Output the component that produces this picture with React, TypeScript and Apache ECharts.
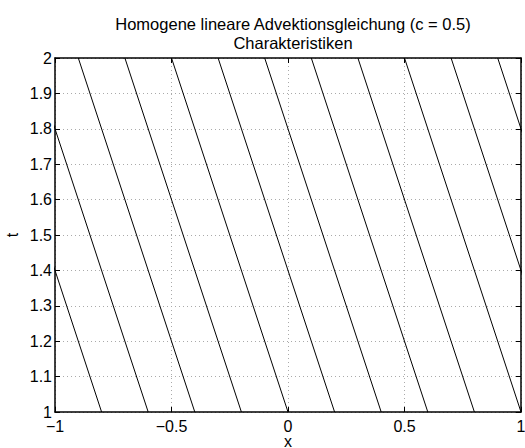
import React, { useEffect, useRef } from "react";
import * as echarts from "echarts";

const titleLines = ["Homogene lineare Advektionsgleichung (c = 0.5)", "Charakteristiken"];
const xName = "x";
const yName = "t";
// Characteristic lines: x position at t = 1 and at t = 2
const tValues = [1, 2];
const xAtT1 = [-0.8, -0.6, -0.4, -0.2, 0, 0.2, 0.4, 0.6, 0.8, 1.0, 1.2, 1.4];
const xAtT2 = [-1.3, -1.1, -0.9, -0.7, -0.5, -0.3, -0.1, 0.1, 0.3, 0.5, 0.7, 0.9];
const xRange = [-1, 1];
const tRange = [1, 2];
const xInterval = 0.5;
const tInterval = 0.1;

const FONT = "'Liberation Sans', Arial, Helvetica, sans-serif";

const fmt = (v: number) => {
  const r = parseFloat(v.toFixed(2));
  return String(r).replace("-", "\u2212");
};

export default function App() {
  const ref = useRef<HTMLDivElement>(null);
  useEffect(() => {
    if (!ref.current) return;
    const chart = echarts.init(ref.current, undefined, { renderer: "svg" });
    const series = xAtT1.map((x1, i) => ({
      type: "line",
      data: [
        [x1, tValues[0]],
        [xAtT2[i], tValues[1]],
      ],
      showSymbol: false,
      symbol: "none",
      clip: true,
      lineStyle: { color: "#000", width: 1 },
      silent: true,
      z: 3,
    }));
    const axisLine = { show: true, onZero: false, lineStyle: { color: "#000", width: 1.5 } };
    const axisTick = { show: true, inside: true, length: 5, lineStyle: { color: "#000", width: 1 } };
    const splitLine = { show: true, lineStyle: { color: "#aaa", width: 1, type: [1, 3] as any } };
    chart.setOption({
      animation: false,
      backgroundColor: "#fff",
      title: {
        text: titleLines.join("\n"),
        left: 288,
        textAlign: "center",
        top: 9,
        textStyle: { fontFamily: FONT, fontSize: 16.5, fontWeight: "normal", color: "#000", lineHeight: 19.5 },
      },
      grid: { left: 55, right: 4, top: 58, bottom: 36, containLabel: false, outerBoundsMode: "none" },
      xAxis: [
        {
          type: "value",
          min: xRange[0],
          max: xRange[1],
          interval: xInterval,
          position: "bottom",
          name: xName,
          nameLocation: "middle",
          nameGap: 23,
          nameMoveOverlap: false,
          nameTextStyle: { fontFamily: FONT, fontSize: 16, color: "#000", lineHeight: 13 },
          axisLine,
          axisTick,
          splitLine,
          axisLabel: { fontFamily: FONT, fontSize: 16, color: "#000", margin: 7, lineHeight: 14, formatter: fmt },
        },
        {
          type: "value",
          min: xRange[0],
          max: xRange[1],
          interval: xInterval,
          position: "top",
          axisLine,
          axisTick,
          splitLine: { show: false },
          axisLabel: { show: false },
        },
      ],
      yAxis: [
        {
          type: "value",
          min: tRange[0],
          max: tRange[1],
          interval: tInterval,
          position: "left",
          name: yName,
          nameLocation: "middle",
          nameGap: 35,
          nameMoveOverlap: false,
          nameRotate: 90,
          nameTextStyle: { fontFamily: FONT, fontSize: 16, color: "#000" },
          axisLine,
          axisTick,
          splitLine,
          axisLabel: { fontFamily: FONT, fontSize: 16, color: "#000", margin: 3, formatter: fmt },
        },
        {
          type: "value",
          min: tRange[0],
          max: tRange[1],
          interval: tInterval,
          position: "right",
          axisLine,
          axisTick,
          splitLine: { show: false },
          axisLabel: { show: false },
        },
      ],
      series,
    });
    return () => chart.dispose();
  }, []);
  return <div ref={ref} style={{ width: 525, height: 448, position: "absolute", left: 0, top: 0 }} />;
}
